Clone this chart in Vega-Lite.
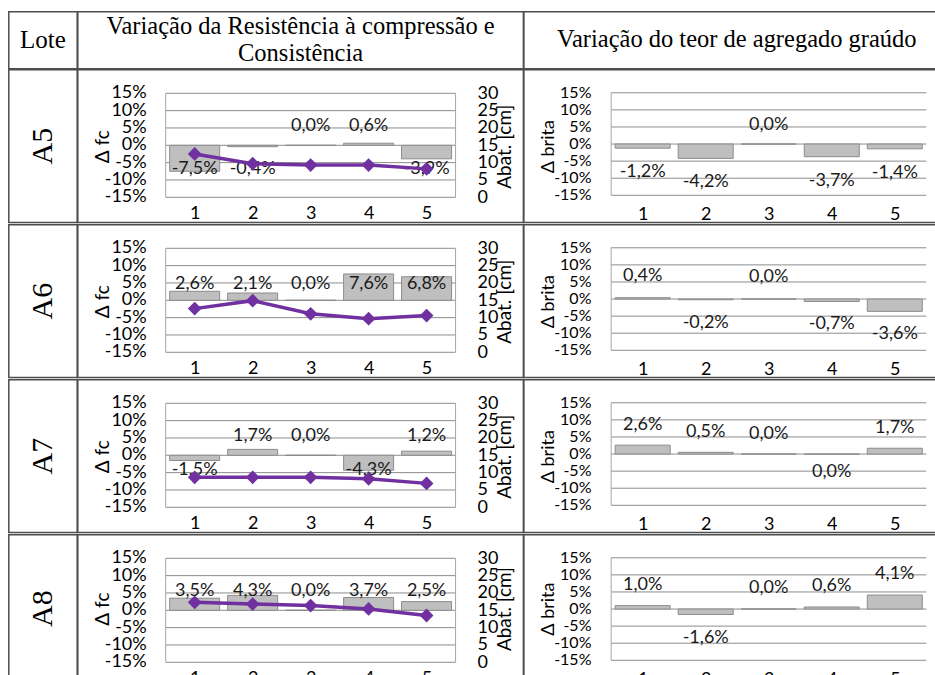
{
"$schema": "https://vega.github.io/schema/vega-lite/v6.json",
"padding": {"left": 7.8, "top": 10.8, "right": 0, "bottom": 0},
"spacing": -3,
"config": {
  "font": "Lato",
  "view": {"stroke": "#4d4d4d", "strokeWidth": 1.5},
  "axis": {"labelOverlap": false, "labelFlush": false, "labelBound": false, "domain": false, "ticks": false, "tickSize": 0, "grid": false, "labelColor": "#000", "titleColor": "#000", "titleFontWeight": "normal"},
  "locale": {"number": {"decimal": ",", "thousands": ".", "grouping": [3], "currency": ["", ""], "minus": "-"}}
},
"datasets": {
  "d": [
    {"lote": "A5", "i": 1, "fc": -0.075, "abat": 12.5, "brita": -0.012},
    {"lote": "A5", "i": 2, "fc": -0.004, "abat": 9.7, "brita": -0.042},
    {"lote": "A5", "i": 3, "fc": 0.0, "abat": 9.3, "brita": 0.0},
    {"lote": "A5", "i": 4, "fc": 0.006, "abat": 9.3, "brita": -0.037},
    {"lote": "A5", "i": 5, "fc": -0.039, "abat": 8.2, "brita": -0.014},
    {"lote": "A6", "i": 1, "fc": 0.026, "abat": 12.6, "brita": 0.004},
    {"lote": "A6", "i": 2, "fc": 0.021, "abat": 14.9, "brita": -0.002},
    {"lote": "A6", "i": 3, "fc": 0.0, "abat": 11.1, "brita": 0.0},
    {"lote": "A6", "i": 4, "fc": 0.076, "abat": 9.7, "brita": -0.007},
    {"lote": "A6", "i": 5, "fc": 0.068, "abat": 10.6, "brita": -0.036},
    {"lote": "A7", "i": 1, "fc": -0.015, "abat": 8.65, "brita": 0.026},
    {"lote": "A7", "i": 2, "fc": 0.017, "abat": 8.65, "brita": 0.005},
    {"lote": "A7", "i": 3, "fc": 0.0, "abat": 8.65, "brita": 0.0},
    {"lote": "A7", "i": 4, "fc": -0.043, "abat": 8.2, "brita": -0.0004},
    {"lote": "A7", "i": 5, "fc": 0.012, "abat": 6.9, "brita": 0.017},
    {"lote": "A8", "i": 1, "fc": 0.035, "abat": 17.3, "brita": 0.010},
    {"lote": "A8", "i": 2, "fc": 0.043, "abat": 16.8, "brita": -0.016},
    {"lote": "A8", "i": 3, "fc": 0.0, "abat": 16.35, "brita": 0.0},
    {"lote": "A8", "i": 4, "fc": 0.037, "abat": 15.4, "brita": 0.006},
    {"lote": "A8", "i": 5, "fc": 0.025, "abat": 13.5, "brita": 0.041}
  ],
  "grid": [{"g": -0.15}, {"g": -0.1}, {"g": -0.05}, {"g": 0}, {"g": 0.05}, {"g": 0.1}, {"g": 0.15}]
},
"vconcat": [
  {
    "hconcat": [
      {"width": 68.4, "height": 57, "data": {"values": [{"t": "Lote"}]},
       "mark": {"type": "text", "font": "Liberation Serif", "fontSize": 25, "color": "#000", "baseline": "middle"},
       "encoding": {"text": {"field": "t"}, "x": {"datum": 0, "type": "quantitative", "scale": {"domain": [-1, 1]}, "axis": null}, "y": {"datum": 0, "type": "quantitative", "scale": {"domain": [-1, 1]}, "axis": null}}},
      {"width": 445.6, "height": 57, "data": {"values": [{"t": "Variação da Resistência à compressão e\nConsistência"}]},
       "mark": {"type": "text", "font": "Liberation Serif", "fontSize": 24.5, "color": "#000", "baseline": "middle", "lineBreak": "\n", "lineHeight": 27, "dy": -13.5},
       "encoding": {"text": {"field": "t"}, "x": {"datum": 0, "type": "quantitative", "scale": {"domain": [-1, 1]}, "axis": null}, "y": {"datum": 0, "type": "quantitative", "scale": {"domain": [-1, 1]}, "axis": null}}},
      {"width": 412, "height": 57, "data": {"values": [{"t": "Variação do teor de agregado graúdo"}]},
       "mark": {"type": "text", "font": "Liberation Serif", "fontSize": 24.5, "color": "#000", "baseline": "middle", "dx": 7},
       "encoding": {"text": {"field": "t"}, "x": {"datum": 0, "type": "quantitative", "scale": {"domain": [-1, 1]}, "axis": null}, "y": {"datum": 0, "type": "quantitative", "scale": {"domain": [-1, 1]}, "axis": null}}}
    ],
    "spacing": 0, "bounds": "flush"
  },
  {
    "hconcat": [
      {"width": 68.4, "height": 152.8, "data": {"values": [{"t": "A5"}]},
       "mark": {"type": "text", "font": "Liberation Serif", "fontSize": 30, "color": "#000", "angle": 270, "baseline": "middle"},
       "encoding": {"text": {"field": "t"}, "x": {"datum": 0, "type": "quantitative", "scale": {"domain": [-1, 1]}, "axis": null}, "y": {"datum": 0, "type": "quantitative", "scale": {"domain": [-1, 1]}, "axis": null}}},
      {"width": 445.6, "height": 152.8,
       "layer": [
        {"layer": [
          {"data": {"name": "grid"}, "mark": {"type": "rule", "color": "#8c8c8c", "strokeWidth": 1},
           "encoding": {"x": {"datum": 0.5, "type": "quantitative"}, "x2": {"datum": 5.5}, "y": {"field": "g", "type": "quantitative"}}},
          {"data": {"name": "grid"}, "mark": {"type": "text", "align": "right", "baseline": "middle", "dx": -19, "fontSize": 18, "color": "#000"},
           "encoding": {"x": {"datum": 0.5, "type": "quantitative"}, "y": {"field": "g", "type": "quantitative"}, "text": {"field": "g", "type": "quantitative", "format": ".0%"}}},
          {"data": {"values": [{}]}, "mark": {"type": "rule", "color": "#a6a6a6", "strokeWidth": 1},
           "encoding": {"x": {"datum": 0.5, "type": "quantitative"}, "y": {"datum": -0.15, "type": "quantitative"}, "y2": {"datum": 0.15}}},
          {"data": {"values": [{}]}, "mark": {"type": "rule", "color": "#a6a6a6", "strokeWidth": 1},
           "encoding": {"x": {"datum": 5.5, "type": "quantitative"}, "y": {"datum": -0.15, "type": "quantitative"}, "y2": {"datum": 0.15}}},
          {"data": {"name": "d"}, "transform": [{"filter": {"field": "lote", "equal": "A5"}}],
           "mark": {"type": "bar", "width": 50, "fill": "#bfbfbf", "stroke": "#8c8c8c", "strokeWidth": 1},
           "encoding": {
             "x": {"field": "i", "type": "quantitative", "scale": {"domain": [-0.930, 6.584], "nice": false, "zero": false},
                   "axis": {"values": [1, 2, 3, 4, 5], "format": "d", "offset": -25.3, "labelPadding": 7, "labelFontSize": 18, "title": null}},
             "y": {"field": "fc", "type": "quantitative", "scale": {"domain": [-0.2230, 0.2178], "nice": false, "zero": false},
                   "axis": {"orient": "left", "values": [0], "labels": false, "offset": -84.8, "title": "Δ  fc", "titleFontSize": 19, "titlePadding": 50}},
             "y2": {"datum": 0}}},
          {"data": {"name": "d"}, "transform": [{"filter": {"and": [{"field": "lote", "equal": "A5"}, {"field": "fc", "gte": 0}]}}],
           "mark": {"type": "text", "baseline": "middle", "dy": -19.5, "fontSize": 18, "color": "#1a1a1a"},
           "encoding": {"x": {"field": "i", "type": "quantitative"}, "y": {"datum": 0, "type": "quantitative"}, "text": {"field": "fc", "type": "quantitative", "format": ".1%"}}},
          {"data": {"name": "d"}, "transform": [{"filter": {"and": [{"field": "lote", "equal": "A5"}, {"field": "fc", "lt": 0}]}}],
           "mark": {"type": "text", "baseline": "middle", "dy": 23.5, "fontSize": 18, "color": "#1a1a1a"},
           "encoding": {"x": {"field": "i", "type": "quantitative"}, "y": {"datum": 0, "type": "quantitative"}, "text": {"field": "fc", "type": "quantitative", "format": ".1%"}}}
        ]},
        {"data": {"name": "d"}, "transform": [{"filter": {"field": "lote", "equal": "A5"}}],
         "mark": {"type": "line", "color": "#7030a0", "strokeWidth": 3.5, "point": {"shape": "diamond", "size": 190, "filled": true, "color": "#7030a0"}},
         "encoding": {
           "x": {"field": "i", "type": "quantitative"},
           "y": {"field": "abat", "type": "quantitative", "scale": {"domain": [-7.298, 36.779], "nice": false, "zero": false},
                 "axis": {"orient": "right", "values": [0, 5, 10, 15, 20, 25, 30], "offset": -64.3, "labelPadding": 18, "labelFontSize": 18, "title": "Abat. [cm]", "titleAngle": 270, "titleBaseline": "top", "titleFontSize": 19, "titlePadding": -2}}}}
       ],
       "resolve": {"scale": {"y": "independent"}}},
      {"width": 412, "height": 152.8,
       "layer": [
          {"data": {"name": "grid"}, "mark": {"type": "rule", "color": "#8c8c8c", "strokeWidth": 1},
           "encoding": {"x": {"datum": 0.5, "type": "quantitative"}, "x2": {"datum": 5.5}, "y": {"field": "g", "type": "quantitative"}}},
          {"data": {"name": "grid"}, "mark": {"type": "text", "align": "right", "baseline": "middle", "dx": -19.7, "fontSize": 16, "color": "#000"},
           "encoding": {"x": {"datum": 0.5, "type": "quantitative"}, "y": {"field": "g", "type": "quantitative"}, "text": {"field": "g", "type": "quantitative", "format": ".0%"}}},
          {"data": {"values": [{}]}, "mark": {"type": "rule", "color": "#a6a6a6", "strokeWidth": 1},
           "encoding": {"x": {"datum": 0.5, "type": "quantitative"}, "y": {"datum": -0.15, "type": "quantitative"}, "y2": {"datum": 0.15}}},
          {"data": {"name": "d"}, "transform": [{"filter": {"field": "lote", "equal": "A5"}}],
           "mark": {"type": "bar", "width": 55, "fill": "#bfbfbf", "stroke": "#8c8c8c", "strokeWidth": 1},
           "encoding": {
             "x": {"field": "i", "type": "quantitative", "scale": {"domain": [-0.8065, 5.5712], "nice": false, "zero": false},
                   "axis": {"values": [1, 2, 3, 4, 5], "format": "d", "offset": -27.3, "labelPadding": 10, "labelFontSize": 18, "title": null}},
             "y": {"field": "brita", "type": "quantitative", "scale": {"domain": [-0.2299, 0.2173], "nice": false, "zero": false},
                   "axis": {"orient": "left", "values": [0], "labels": false, "offset": -84.4, "title": "Δ brita", "titleFontSize": 18, "titlePadding": 50.7}},
             "y2": {"datum": 0}}},
          {"data": {"name": "d"}, "transform": [{"filter": {"and": [{"field": "lote", "equal": "A5"}, {"field": "brita", "gte": 0}]}}],
           "mark": {"type": "text", "baseline": "middle", "dy": -19, "fontSize": 18, "color": "#1a1a1a"},
           "encoding": {"x": {"field": "i", "type": "quantitative"}, "y": {"field": "brita", "type": "quantitative"}, "text": {"field": "brita", "type": "quantitative", "format": ".1%"}}},
          {"data": {"name": "d"}, "transform": [{"filter": {"and": [{"field": "lote", "equal": "A5"}, {"field": "brita", "lt": 0}]}}],
           "mark": {"type": "text", "baseline": "middle", "dy": 24, "fontSize": 18, "color": "#1a1a1a"},
           "encoding": {"x": {"field": "i", "type": "quantitative"}, "y": {"field": "brita", "type": "quantitative"}, "text": {"field": "brita", "type": "quantitative", "format": ".1%"}}}
       ]}
    ],
    "spacing": 0, "bounds": "flush"
  },
  {
    "hconcat": [
      {"width": 68.4, "height": 152.8, "data": {"values": [{"t": "A6"}]},
       "mark": {"type": "text", "font": "Liberation Serif", "fontSize": 30, "color": "#000", "angle": 270, "baseline": "middle"},
       "encoding": {"text": {"field": "t"}, "x": {"datum": 0, "type": "quantitative", "scale": {"domain": [-1, 1]}, "axis": null}, "y": {"datum": 0, "type": "quantitative", "scale": {"domain": [-1, 1]}, "axis": null}}},
      {"width": 445.6, "height": 152.8,
       "layer": [
        {"layer": [
          {"data": {"name": "grid"}, "mark": {"type": "rule", "color": "#8c8c8c", "strokeWidth": 1},
           "encoding": {"x": {"datum": 0.5, "type": "quantitative"}, "x2": {"datum": 5.5}, "y": {"field": "g", "type": "quantitative"}}},
          {"data": {"name": "grid"}, "mark": {"type": "text", "align": "right", "baseline": "middle", "dx": -19, "fontSize": 18, "color": "#000"},
           "encoding": {"x": {"datum": 0.5, "type": "quantitative"}, "y": {"field": "g", "type": "quantitative"}, "text": {"field": "g", "type": "quantitative", "format": ".0%"}}},
          {"data": {"values": [{}]}, "mark": {"type": "rule", "color": "#a6a6a6", "strokeWidth": 1},
           "encoding": {"x": {"datum": 0.5, "type": "quantitative"}, "y": {"datum": -0.15, "type": "quantitative"}, "y2": {"datum": 0.15}}},
          {"data": {"values": [{}]}, "mark": {"type": "rule", "color": "#a6a6a6", "strokeWidth": 1},
           "encoding": {"x": {"datum": 5.5, "type": "quantitative"}, "y": {"datum": -0.15, "type": "quantitative"}, "y2": {"datum": 0.15}}},
          {"data": {"name": "d"}, "transform": [{"filter": {"field": "lote", "equal": "A6"}}],
           "mark": {"type": "bar", "width": 50, "fill": "#bfbfbf", "stroke": "#8c8c8c", "strokeWidth": 1},
           "encoding": {
             "x": {"field": "i", "type": "quantitative", "scale": {"domain": [-0.930, 6.584], "nice": false, "zero": false},
                   "axis": {"values": [1, 2, 3, 4, 5], "format": "d", "offset": -25.3, "labelPadding": 7, "labelFontSize": 18, "title": null}},
             "y": {"field": "fc", "type": "quantitative", "scale": {"domain": [-0.2230, 0.2178], "nice": false, "zero": false},
                   "axis": {"orient": "left", "values": [0], "labels": false, "offset": -84.8, "title": "Δ  fc", "titleFontSize": 19, "titlePadding": 50}},
             "y2": {"datum": 0}}},
          {"data": {"name": "d"}, "transform": [{"filter": {"and": [{"field": "lote", "equal": "A6"}, {"field": "fc", "gte": 0}]}}],
           "mark": {"type": "text", "baseline": "middle", "dy": -16.5, "fontSize": 18, "color": "#1a1a1a"},
           "encoding": {"x": {"field": "i", "type": "quantitative"}, "y": {"datum": 0, "type": "quantitative"}, "text": {"field": "fc", "type": "quantitative", "format": ".1%"}}}
        ]},
        {"data": {"name": "d"}, "transform": [{"filter": {"field": "lote", "equal": "A6"}}],
         "mark": {"type": "line", "color": "#7030a0", "strokeWidth": 3.5, "point": {"shape": "diamond", "size": 190, "filled": true, "color": "#7030a0"}},
         "encoding": {
           "x": {"field": "i", "type": "quantitative"},
           "y": {"field": "abat", "type": "quantitative", "scale": {"domain": [-7.298, 36.779], "nice": false, "zero": false},
                 "axis": {"orient": "right", "values": [0, 5, 10, 15, 20, 25, 30], "offset": -64.3, "labelPadding": 18, "labelFontSize": 18, "title": "Abat. [cm]", "titleAngle": 270, "titleBaseline": "top", "titleFontSize": 19, "titlePadding": -2}}}}
       ],
       "resolve": {"scale": {"y": "independent"}}},
      {"width": 412, "height": 152.8,
       "layer": [
          {"data": {"name": "grid"}, "mark": {"type": "rule", "color": "#8c8c8c", "strokeWidth": 1},
           "encoding": {"x": {"datum": 0.5, "type": "quantitative"}, "x2": {"datum": 5.5}, "y": {"field": "g", "type": "quantitative"}}},
          {"data": {"name": "grid"}, "mark": {"type": "text", "align": "right", "baseline": "middle", "dx": -19.7, "fontSize": 16, "color": "#000"},
           "encoding": {"x": {"datum": 0.5, "type": "quantitative"}, "y": {"field": "g", "type": "quantitative"}, "text": {"field": "g", "type": "quantitative", "format": ".0%"}}},
          {"data": {"values": [{}]}, "mark": {"type": "rule", "color": "#a6a6a6", "strokeWidth": 1},
           "encoding": {"x": {"datum": 0.5, "type": "quantitative"}, "y": {"datum": -0.15, "type": "quantitative"}, "y2": {"datum": 0.15}}},
          {"data": {"name": "d"}, "transform": [{"filter": {"field": "lote", "equal": "A6"}}],
           "mark": {"type": "bar", "width": 55, "fill": "#bfbfbf", "stroke": "#8c8c8c", "strokeWidth": 1},
           "encoding": {
             "x": {"field": "i", "type": "quantitative", "scale": {"domain": [-0.8065, 5.5712], "nice": false, "zero": false},
                   "axis": {"values": [1, 2, 3, 4, 5], "format": "d", "offset": -27.3, "labelPadding": 10, "labelFontSize": 18, "title": null}},
             "y": {"field": "brita", "type": "quantitative", "scale": {"domain": [-0.2299, 0.2173], "nice": false, "zero": false},
                   "axis": {"orient": "left", "values": [0], "labels": false, "offset": -84.4, "title": "Δ brita", "titleFontSize": 18, "titlePadding": 50.7}},
             "y2": {"datum": 0}}},
          {"data": {"name": "d"}, "transform": [{"filter": {"and": [{"field": "lote", "equal": "A6"}, {"field": "brita", "gte": 0}]}}],
           "mark": {"type": "text", "baseline": "middle", "dy": -22, "fontSize": 18, "color": "#1a1a1a"},
           "encoding": {"x": {"field": "i", "type": "quantitative"}, "y": {"field": "brita", "type": "quantitative"}, "text": {"field": "brita", "type": "quantitative", "format": ".1%"}}},
          {"data": {"name": "d"}, "transform": [{"filter": {"and": [{"field": "lote", "equal": "A6"}, {"field": "brita", "lt": 0}]}}],
           "mark": {"type": "text", "baseline": "middle", "dy": 23, "fontSize": 18, "color": "#1a1a1a"},
           "encoding": {"x": {"field": "i", "type": "quantitative"}, "y": {"field": "brita", "type": "quantitative"}, "text": {"field": "brita", "type": "quantitative", "format": ".1%"}}}
       ]}
    ],
    "spacing": 0, "bounds": "flush"
  },
  {
    "hconcat": [
      {"width": 68.4, "height": 152.8, "data": {"values": [{"t": "A7"}]},
       "mark": {"type": "text", "font": "Liberation Serif", "fontSize": 30, "color": "#000", "angle": 270, "baseline": "middle"},
       "encoding": {"text": {"field": "t"}, "x": {"datum": 0, "type": "quantitative", "scale": {"domain": [-1, 1]}, "axis": null}, "y": {"datum": 0, "type": "quantitative", "scale": {"domain": [-1, 1]}, "axis": null}}},
      {"width": 445.6, "height": 152.8,
       "layer": [
        {"layer": [
          {"data": {"name": "grid"}, "mark": {"type": "rule", "color": "#8c8c8c", "strokeWidth": 1},
           "encoding": {"x": {"datum": 0.5, "type": "quantitative"}, "x2": {"datum": 5.5}, "y": {"field": "g", "type": "quantitative"}}},
          {"data": {"name": "grid"}, "mark": {"type": "text", "align": "right", "baseline": "middle", "dx": -19, "fontSize": 18, "color": "#000"},
           "encoding": {"x": {"datum": 0.5, "type": "quantitative"}, "y": {"field": "g", "type": "quantitative"}, "text": {"field": "g", "type": "quantitative", "format": ".0%"}}},
          {"data": {"values": [{}]}, "mark": {"type": "rule", "color": "#a6a6a6", "strokeWidth": 1},
           "encoding": {"x": {"datum": 0.5, "type": "quantitative"}, "y": {"datum": -0.15, "type": "quantitative"}, "y2": {"datum": 0.15}}},
          {"data": {"values": [{}]}, "mark": {"type": "rule", "color": "#a6a6a6", "strokeWidth": 1},
           "encoding": {"x": {"datum": 5.5, "type": "quantitative"}, "y": {"datum": -0.15, "type": "quantitative"}, "y2": {"datum": 0.15}}},
          {"data": {"name": "d"}, "transform": [{"filter": {"field": "lote", "equal": "A7"}}],
           "mark": {"type": "bar", "width": 50, "fill": "#bfbfbf", "stroke": "#8c8c8c", "strokeWidth": 1},
           "encoding": {
             "x": {"field": "i", "type": "quantitative", "scale": {"domain": [-0.930, 6.584], "nice": false, "zero": false},
                   "axis": {"values": [1, 2, 3, 4, 5], "format": "d", "offset": -25.3, "labelPadding": 7, "labelFontSize": 18, "title": null}},
             "y": {"field": "fc", "type": "quantitative", "scale": {"domain": [-0.2230, 0.2178], "nice": false, "zero": false},
                   "axis": {"orient": "left", "values": [0], "labels": false, "offset": -84.8, "title": "Δ  fc", "titleFontSize": 19, "titlePadding": 50}},
             "y2": {"datum": 0}}},
          {"data": {"name": "d"}, "transform": [{"filter": {"and": [{"field": "lote", "equal": "A7"}, {"field": "fc", "gte": 0}]}}],
           "mark": {"type": "text", "baseline": "middle", "dy": -19.5, "fontSize": 18, "color": "#1a1a1a"},
           "encoding": {"x": {"field": "i", "type": "quantitative"}, "y": {"datum": 0, "type": "quantitative"}, "text": {"field": "fc", "type": "quantitative", "format": ".1%"}}},
          {"data": {"name": "d"}, "transform": [{"filter": {"and": [{"field": "lote", "equal": "A7"}, {"field": "fc", "lt": 0}]}}],
           "mark": {"type": "text", "baseline": "middle", "dy": 15, "fontSize": 18, "color": "#1a1a1a"},
           "encoding": {"x": {"field": "i", "type": "quantitative"}, "y": {"datum": 0, "type": "quantitative"}, "text": {"field": "fc", "type": "quantitative", "format": ".1%"}}}
        ]},
        {"data": {"name": "d"}, "transform": [{"filter": {"field": "lote", "equal": "A7"}}],
         "mark": {"type": "line", "color": "#7030a0", "strokeWidth": 3.5, "point": {"shape": "diamond", "size": 190, "filled": true, "color": "#7030a0"}},
         "encoding": {
           "x": {"field": "i", "type": "quantitative"},
           "y": {"field": "abat", "type": "quantitative", "scale": {"domain": [-7.298, 36.779], "nice": false, "zero": false},
                 "axis": {"orient": "right", "values": [0, 5, 10, 15, 20, 25, 30], "offset": -64.3, "labelPadding": 18, "labelFontSize": 18, "title": "Abat. [cm]", "titleAngle": 270, "titleBaseline": "top", "titleFontSize": 19, "titlePadding": -2}}}}
       ],
       "resolve": {"scale": {"y": "independent"}}},
      {"width": 412, "height": 152.8,
       "layer": [
          {"data": {"name": "grid"}, "mark": {"type": "rule", "color": "#8c8c8c", "strokeWidth": 1},
           "encoding": {"x": {"datum": 0.5, "type": "quantitative"}, "x2": {"datum": 5.5}, "y": {"field": "g", "type": "quantitative"}}},
          {"data": {"name": "grid"}, "mark": {"type": "text", "align": "right", "baseline": "middle", "dx": -19.7, "fontSize": 16, "color": "#000"},
           "encoding": {"x": {"datum": 0.5, "type": "quantitative"}, "y": {"field": "g", "type": "quantitative"}, "text": {"field": "g", "type": "quantitative", "format": ".0%"}}},
          {"data": {"values": [{}]}, "mark": {"type": "rule", "color": "#a6a6a6", "strokeWidth": 1},
           "encoding": {"x": {"datum": 0.5, "type": "quantitative"}, "y": {"datum": -0.15, "type": "quantitative"}, "y2": {"datum": 0.15}}},
          {"data": {"name": "d"}, "transform": [{"filter": {"field": "lote", "equal": "A7"}}],
           "mark": {"type": "bar", "width": 55, "fill": "#bfbfbf", "stroke": "#8c8c8c", "strokeWidth": 1},
           "encoding": {
             "x": {"field": "i", "type": "quantitative", "scale": {"domain": [-0.8065, 5.5712], "nice": false, "zero": false},
                   "axis": {"values": [1, 2, 3, 4, 5], "format": "d", "offset": -27.3, "labelPadding": 10, "labelFontSize": 18, "title": null}},
             "y": {"field": "brita", "type": "quantitative", "scale": {"domain": [-0.2299, 0.2173], "nice": false, "zero": false},
                   "axis": {"orient": "left", "values": [0], "labels": false, "offset": -84.4, "title": "Δ brita", "titleFontSize": 18, "titlePadding": 50.7}},
             "y2": {"datum": 0}}},
          {"data": {"name": "d"}, "transform": [{"filter": {"and": [{"field": "lote", "equal": "A7"}, {"field": "brita", "gte": 0}]}}],
           "mark": {"type": "text", "baseline": "middle", "dy": -20, "fontSize": 18, "color": "#1a1a1a"},
           "encoding": {"x": {"field": "i", "type": "quantitative"}, "y": {"field": "brita", "type": "quantitative"}, "text": {"field": "brita", "type": "quantitative", "format": ".1%"}}},
          {"data": {"name": "d"}, "transform": [{"filter": {"and": [{"field": "lote", "equal": "A7"}, {"field": "brita", "lt": 0}]}}],
           "mark": {"type": "text", "baseline": "middle", "dy": 18, "fontSize": 18, "color": "#1a1a1a"},
           "encoding": {"x": {"field": "i", "type": "quantitative"}, "y": {"field": "brita", "type": "quantitative"}, "text": {"field": "brita", "type": "quantitative", "format": ".1%"}}}
       ]}
    ],
    "spacing": 0, "bounds": "flush"
  },
  {
    "hconcat": [
      {"width": 68.4, "height": 147.6, "data": {"values": [{"t": "A8"}]},
       "mark": {"type": "text", "font": "Liberation Serif", "fontSize": 30, "color": "#000", "angle": 270, "baseline": "middle"},
       "encoding": {"text": {"field": "t"}, "x": {"datum": 0, "type": "quantitative", "scale": {"domain": [-1, 1]}, "axis": null}, "y": {"datum": 0, "type": "quantitative", "scale": {"domain": [-1, 1]}, "axis": null}}},
      {"width": 445.6, "height": 147.6,
       "layer": [
        {"layer": [
          {"data": {"name": "grid"}, "mark": {"type": "rule", "color": "#8c8c8c", "strokeWidth": 1},
           "encoding": {"x": {"datum": 0.5, "type": "quantitative"}, "x2": {"datum": 5.5}, "y": {"field": "g", "type": "quantitative"}}},
          {"data": {"name": "grid"}, "mark": {"type": "text", "align": "right", "baseline": "middle", "dx": -19, "fontSize": 18, "color": "#000"},
           "encoding": {"x": {"datum": 0.5, "type": "quantitative"}, "y": {"field": "g", "type": "quantitative"}, "text": {"field": "g", "type": "quantitative", "format": ".0%"}}},
          {"data": {"values": [{}]}, "mark": {"type": "rule", "color": "#a6a6a6", "strokeWidth": 1},
           "encoding": {"x": {"datum": 0.5, "type": "quantitative"}, "y": {"datum": -0.15, "type": "quantitative"}, "y2": {"datum": 0.15}}},
          {"data": {"values": [{}]}, "mark": {"type": "rule", "color": "#a6a6a6", "strokeWidth": 1},
           "encoding": {"x": {"datum": 5.5, "type": "quantitative"}, "y": {"datum": -0.15, "type": "quantitative"}, "y2": {"datum": 0.15}}},
          {"data": {"name": "d"}, "transform": [{"filter": {"field": "lote", "equal": "A8"}}],
           "mark": {"type": "bar", "width": 50, "fill": "#bfbfbf", "stroke": "#8c8c8c", "strokeWidth": 1},
           "encoding": {
             "x": {"field": "i", "type": "quantitative", "scale": {"domain": [-0.930, 6.584], "nice": false, "zero": false},
                   "axis": {"values": [1, 2, 3, 4, 5], "format": "d", "offset": -20.1, "labelPadding": 7, "labelFontSize": 18, "title": null}},
             "y": {"field": "fc", "type": "quantitative", "scale": {"domain": [-0.2080, 0.2178], "nice": false, "zero": false},
                   "axis": {"orient": "left", "values": [0], "labels": false, "offset": -84.8, "title": "Δ  fc", "titleFontSize": 19, "titlePadding": 50}},
             "y2": {"datum": 0}}},
          {"data": {"name": "d"}, "transform": [{"filter": {"and": [{"field": "lote", "equal": "A8"}, {"field": "fc", "gte": 0}]}}],
           "mark": {"type": "text", "baseline": "middle", "dy": -19, "fontSize": 18, "color": "#1a1a1a"},
           "encoding": {"x": {"field": "i", "type": "quantitative"}, "y": {"datum": 0, "type": "quantitative"}, "text": {"field": "fc", "type": "quantitative", "format": ".1%"}}}
        ]},
        {"data": {"name": "d"}, "transform": [{"filter": {"field": "lote", "equal": "A8"}}],
         "mark": {"type": "line", "color": "#7030a0", "strokeWidth": 3.5, "point": {"shape": "diamond", "size": 190, "filled": true, "color": "#7030a0"}},
         "encoding": {
           "x": {"field": "i", "type": "quantitative"},
           "y": {"field": "abat", "type": "quantitative", "scale": {"domain": [-5.798, 36.779], "nice": false, "zero": false},
                 "axis": {"orient": "right", "values": [0, 5, 10, 15, 20, 25, 30], "offset": -64.3, "labelPadding": 18, "labelFontSize": 18, "title": "Abat. [cm]", "titleAngle": 270, "titleBaseline": "top", "titleFontSize": 19, "titlePadding": -2}}}}
       ],
       "resolve": {"scale": {"y": "independent"}}},
      {"width": 412, "height": 147.6,
       "layer": [
          {"data": {"name": "grid"}, "mark": {"type": "rule", "color": "#8c8c8c", "strokeWidth": 1},
           "encoding": {"x": {"datum": 0.5, "type": "quantitative"}, "x2": {"datum": 5.5}, "y": {"field": "g", "type": "quantitative"}}},
          {"data": {"name": "grid"}, "mark": {"type": "text", "align": "right", "baseline": "middle", "dx": -19.7, "fontSize": 16, "color": "#000"},
           "encoding": {"x": {"datum": 0.5, "type": "quantitative"}, "y": {"field": "g", "type": "quantitative"}, "text": {"field": "g", "type": "quantitative", "format": ".0%"}}},
          {"data": {"values": [{}]}, "mark": {"type": "rule", "color": "#a6a6a6", "strokeWidth": 1},
           "encoding": {"x": {"datum": 0.5, "type": "quantitative"}, "y": {"datum": -0.15, "type": "quantitative"}, "y2": {"datum": 0.15}}},
          {"data": {"name": "d"}, "transform": [{"filter": {"field": "lote", "equal": "A8"}}],
           "mark": {"type": "bar", "width": 55, "fill": "#bfbfbf", "stroke": "#8c8c8c", "strokeWidth": 1},
           "encoding": {
             "x": {"field": "i", "type": "quantitative", "scale": {"domain": [-0.8065, 5.5712], "nice": false, "zero": false},
                   "axis": {"values": [1, 2, 3, 4, 5], "format": "d", "offset": -22.1, "labelPadding": 10, "labelFontSize": 18, "title": null}},
             "y": {"field": "brita", "type": "quantitative", "scale": {"domain": [-0.2147, 0.2173], "nice": false, "zero": false},
                   "axis": {"orient": "left", "values": [0], "labels": false, "offset": -84.4, "title": "Δ brita", "titleFontSize": 18, "titlePadding": 50.7}},
             "y2": {"datum": 0}}},
          {"data": {"name": "d"}, "transform": [{"filter": {"and": [{"field": "lote", "equal": "A8"}, {"field": "brita", "gte": 0}]}}],
           "mark": {"type": "text", "baseline": "middle", "dy": -21, "fontSize": 18, "color": "#1a1a1a"},
           "encoding": {"x": {"field": "i", "type": "quantitative"}, "y": {"field": "brita", "type": "quantitative"}, "text": {"field": "brita", "type": "quantitative", "format": ".1%"}}},
          {"data": {"name": "d"}, "transform": [{"filter": {"and": [{"field": "lote", "equal": "A8"}, {"field": "brita", "lt": 0}]}}],
           "mark": {"type": "text", "baseline": "middle", "dy": 23, "fontSize": 18, "color": "#1a1a1a"},
           "encoding": {"x": {"field": "i", "type": "quantitative"}, "y": {"field": "brita", "type": "quantitative"}, "text": {"field": "brita", "type": "quantitative", "format": ".1%"}}}
       ]}
    ],
    "spacing": 0, "bounds": "flush"
  }
]
}
